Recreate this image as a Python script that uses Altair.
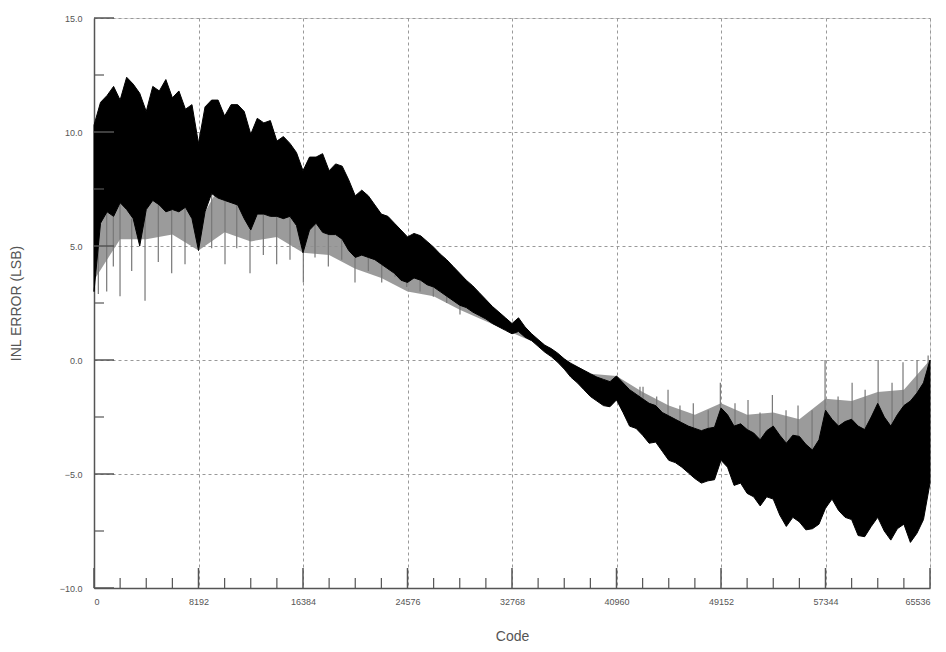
import altair as alt
import pandas as pd

# ---- axis ticks ----
x_ticks = [0, 8192, 16384, 24576, 32768, 40960, 49152, 57344, 65536]
x_minor = [c for c in range(2048, 65536, 2048) if c % 8192 != 0]
y_ticks = [-10, -5, 0, 5, 10, 15]
y_minor = [-7.5, -2.5, 2.5, 7.5, 12.5]

# ---- dense INL band: envelope sampled every 512 codes ----
band_code = list(range(0, 65537, 512))
band_upper = [
    10.3, 11.3, 11.6, 12.0, 11.4, 12.4, 12.1, 11.7,
    10.9, 12.0, 11.8, 12.3, 11.5, 11.8, 11.0, 11.2,
    9.5, 11.1, 11.4, 11.4, 10.7, 11.2, 11.2, 10.9,
    9.9, 10.6, 10.4, 10.5, 9.6, 9.8, 9.5, 9.1,
    8.3, 8.9, 8.9, 9.05, 8.3, 8.6, 8.5, 7.9,
    7.2, 7.45, 7.2, 6.8, 6.4, 6.3, 6.0, 5.7,
    5.4, 5.55, 5.45, 5.2, 4.95, 4.65, 4.4, 4.1,
    3.8, 3.5, 3.25, 2.95, 2.65, 2.35, 2.1, 1.85,
    1.6, 1.85, 1.45, 1.15, 0.9, 0.65, 0.5, 0.3,
    0.05, -0.15, -0.3, -0.45, -0.6, -0.75, -0.85, -0.95,
    -0.7, -1.0, -1.3, -1.5, -1.7, -1.9, -2.0, -2.3,
    -2.45, -2.6, -2.75, -2.9, -3.0, -3.1, -3.0, -2.95,
    -2.1, -2.4, -2.9, -2.8, -3.05, -3.2, -3.5, -3.1,
    -2.9, -3.3, -3.65, -3.3, -3.35, -3.7, -3.95, -3.5,
    -2.2, -2.6, -2.9, -2.7, -2.6, -2.9, -3.05, -2.5,
    -1.9, -2.5, -2.9, -2.4, -2.0, -1.8, -1.45, -1.0,
    0.0,
]
band_lower = [
    3.0, 6.0, 6.5, 6.3, 6.9, 6.6, 6.2, 5.0,
    6.6, 7.0, 6.8, 6.5, 6.6, 6.5, 6.7, 6.2,
    4.8, 6.5, 7.3, 7.1, 7.0, 6.9, 6.8, 6.2,
    5.7, 6.4, 6.4, 6.3, 6.3, 6.2, 6.3, 5.9,
    4.7, 5.7, 6.0, 5.6, 5.5, 5.5, 5.3, 4.8,
    4.5, 4.6, 4.5, 4.4, 4.2, 4.0, 3.8, 3.5,
    3.4, 3.6, 3.5, 3.3, 3.2, 3.0, 2.8, 2.6,
    2.4, 2.3, 2.1, 1.95, 1.8, 1.6, 1.45, 1.3,
    1.15, 1.25, 1.0, 0.85, 0.6, 0.35, 0.15, -0.1,
    -0.4, -0.75, -1.0, -1.3, -1.6, -1.8, -2.0, -2.05,
    -1.75, -2.3, -2.9, -3.0, -3.3, -3.65, -3.6, -4.0,
    -4.4, -4.5, -4.7, -4.95, -5.2, -5.4, -5.3, -5.25,
    -4.4, -4.7, -5.5, -5.4, -5.85, -6.0, -6.4, -6.0,
    -6.1, -6.8, -7.3, -6.9, -7.1, -7.45, -7.4, -7.2,
    -6.5, -6.1, -6.6, -6.9, -7.0, -7.7, -7.75, -7.3,
    -6.9, -7.5, -7.9, -7.4, -7.2, -8.0, -7.6, -7.0,
    -5.4,
]

# ---- lighter gray fringe around the band, every 2048 codes ----
fringe_code = list(range(0, 65537, 2048))
fringe_hi = [6.0, 8.0, 8.0, 8.0, 6.0, 8.0, 7.0, 7.5, 6.0, 6.5, 5.5, 5.2, 4.5, 4.0,
             3.0, 2.2, 1.4, 0.9, 0.05, -0.6, -0.7, -1.4, -2.0, -2.4, -1.9, -2.4,
             -2.3, -2.6, -1.7, -1.8, -1.4, -1.3, 0.0]
fringe_lo = [3.5, 5.3, 5.3, 5.5, 4.8, 5.6, 5.2, 5.4, 4.7, 4.6, 4.0, 3.6, 3.0, 2.8,
             2.2, 1.7, 1.2, 0.7, -0.2, -1.2, -1.3, -2.5, -3.5, -4.0, -3.5, -4.5,
             -4.5, -5.0, -4.5, -5.0, -4.5, -5.0, -3.0]

# ---- isolated spikes (code, tip, base) ----
spike_code = [340, 995, 1515, 2040, 2955, 4000, 5040, 6090, 7135, 9225, 10270,
              11190, 12230, 13275, 14320, 15365, 16410, 17325, 18370, 19420,
              20460, 21505, 22555, 23600, 24515, 25560, 26600, 27650, 28690,
              42800, 43040, 44110, 45000, 45935, 46980, 48150, 49100, 50250,
              51270, 52210, 53180, 54250, 55190, 56290, 57310, 58330, 59430,
              60450, 61470, 62560, 63420, 64520, 65390]
spike_tip = [2.9, 3.0, 4.1, 2.8, 3.9, 2.6, 4.3, 3.8, 4.2, 4.9, 4.2,
             4.9, 3.8, 4.6, 4.2, 4.4, 3.4, 4.5, 4.1, 4.4,
             3.4, 3.9, 3.4, 3.65, 3.2, 3.0, 2.77, 2.5, 2.0,
             -1.17, -1.17, -1.6, -1.3, -2.0, -1.9, -2.2, -1.0, -1.9,
             -1.75, -2.3, -1.53, -2.2, -2.0, -2.2, 0.0, -1.6, -1.0,
             -1.3, 0.0, -1.0, -0.1, 0.0, 0.2]
spike_base = [6.0, 6.5, 6.3, 6.9, 6.2, 6.6, 6.8, 6.6, 6.7, 7.3, 7.0,
              6.8, 5.7, 6.4, 6.3, 6.3, 4.7, 6.0, 5.5, 5.3,
              4.5, 4.5, 4.2, 3.8, 3.4, 3.5, 3.2, 2.8, 2.4,
              -1.6, -1.7, -2.0, -2.45, -2.7, -3.0, -3.0, -2.1, -2.9,
              -3.05, -3.5, -2.9, -3.65, -3.35, -3.95, -2.2, -2.9, -2.6,
              -3.05, -1.9, -2.9, -2.0, -1.45, -1.0]

band_df = pd.DataFrame({"code": band_code, "upper": band_upper, "lower": band_lower})
fringe_df = pd.DataFrame({"code": fringe_code, "hi": fringe_hi, "lo": fringe_lo})
spike_df = pd.DataFrame({"code": spike_code, "tip": spike_tip, "base": spike_base})
xmaj_df = pd.DataFrame({"code": x_ticks})
xmin_df = pd.DataFrame({"code": x_minor})
ymaj_df = pd.DataFrame({"v": y_ticks})
ymin_df = pd.DataFrame({"v": y_minor})

W, H = 836, 570
GRAY = "#555555"

x_scale = alt.Scale(domain=[0, 65536], nice=False, zero=False)
y_scale = alt.Scale(domain=[-10, 15], nice=False, zero=False)

x_axis = alt.Axis(values=x_ticks, format="d", labelFontSize=9, labelColor=GRAY,
                  ticks=False, labelPadding=9, grid=True, gridDash=[3, 3],
                  gridColor="#999999", gridWidth=1, domainColor=GRAY, domainWidth=1.5,
                  title="Code", titleFontSize=14, titleFontWeight="normal",
                  titleColor=GRAY, titlePadding=23, labelFlush=True)
y_axis = alt.Axis(values=y_ticks, format=".1f", labelFontSize=9, labelColor=GRAY,
                  ticks=False, labelPadding=12, grid=True, gridDash=[3, 3],
                  gridColor="#999999", gridWidth=1, domainColor=GRAY, domainWidth=1.5,
                  title="INL ERROR (LSB)", titleFontSize=14, titleFontWeight="normal",
                  titleColor=GRAY, titlePadding=36)

fringe = alt.Chart(fringe_df).mark_area(color="#909090", opacity=0.9).encode(
    x=alt.X("code:Q", scale=x_scale, axis=x_axis),
    y=alt.Y("hi:Q", scale=y_scale, axis=y_axis),
    y2="lo:Q",
)

spikes = alt.Chart(spike_df).mark_rule(color="#777777", strokeWidth=1.2).encode(
    x="code:Q", y="tip:Q", y2="base:Q"
)

band = alt.Chart(band_df).mark_area(color="black", stroke="black", strokeWidth=1).encode(
    x="code:Q", y="upper:Q", y2="lower:Q"
)

xmaj = alt.Chart(xmaj_df).mark_rule(color=GRAY, strokeWidth=1.5).encode(
    x="code:Q", y=alt.value(H), y2=alt.value(H - 20)
)
xmin = alt.Chart(xmin_df).mark_rule(color=GRAY, strokeWidth=1.2).encode(
    x="code:Q", y=alt.value(H), y2=alt.value(H - 10)
)
ymaj = alt.Chart(ymaj_df).mark_rule(color=GRAY, strokeWidth=1.5).encode(
    y="v:Q", x=alt.value(0), x2=alt.value(20)
)
ymin = alt.Chart(ymin_df).mark_rule(color=GRAY, strokeWidth=1.2).encode(
    y="v:Q", x=alt.value(0), x2=alt.value(10)
)

chart = alt.layer(fringe, spikes, band, xmaj, xmin, ymaj, ymin).properties(
    width=W, height=H,
    autosize=alt.AutoSizeParams(type="none"),
    padding={"left": 86, "top": 10, "right": 8, "bottom": 56},
    background="white",
).configure_view(stroke=GRAY, strokeWidth=1.5).configure(
    font="Liberation Sans"
)

chart.save("out.html", embed_options={"renderer": "svg", "actions": False})
